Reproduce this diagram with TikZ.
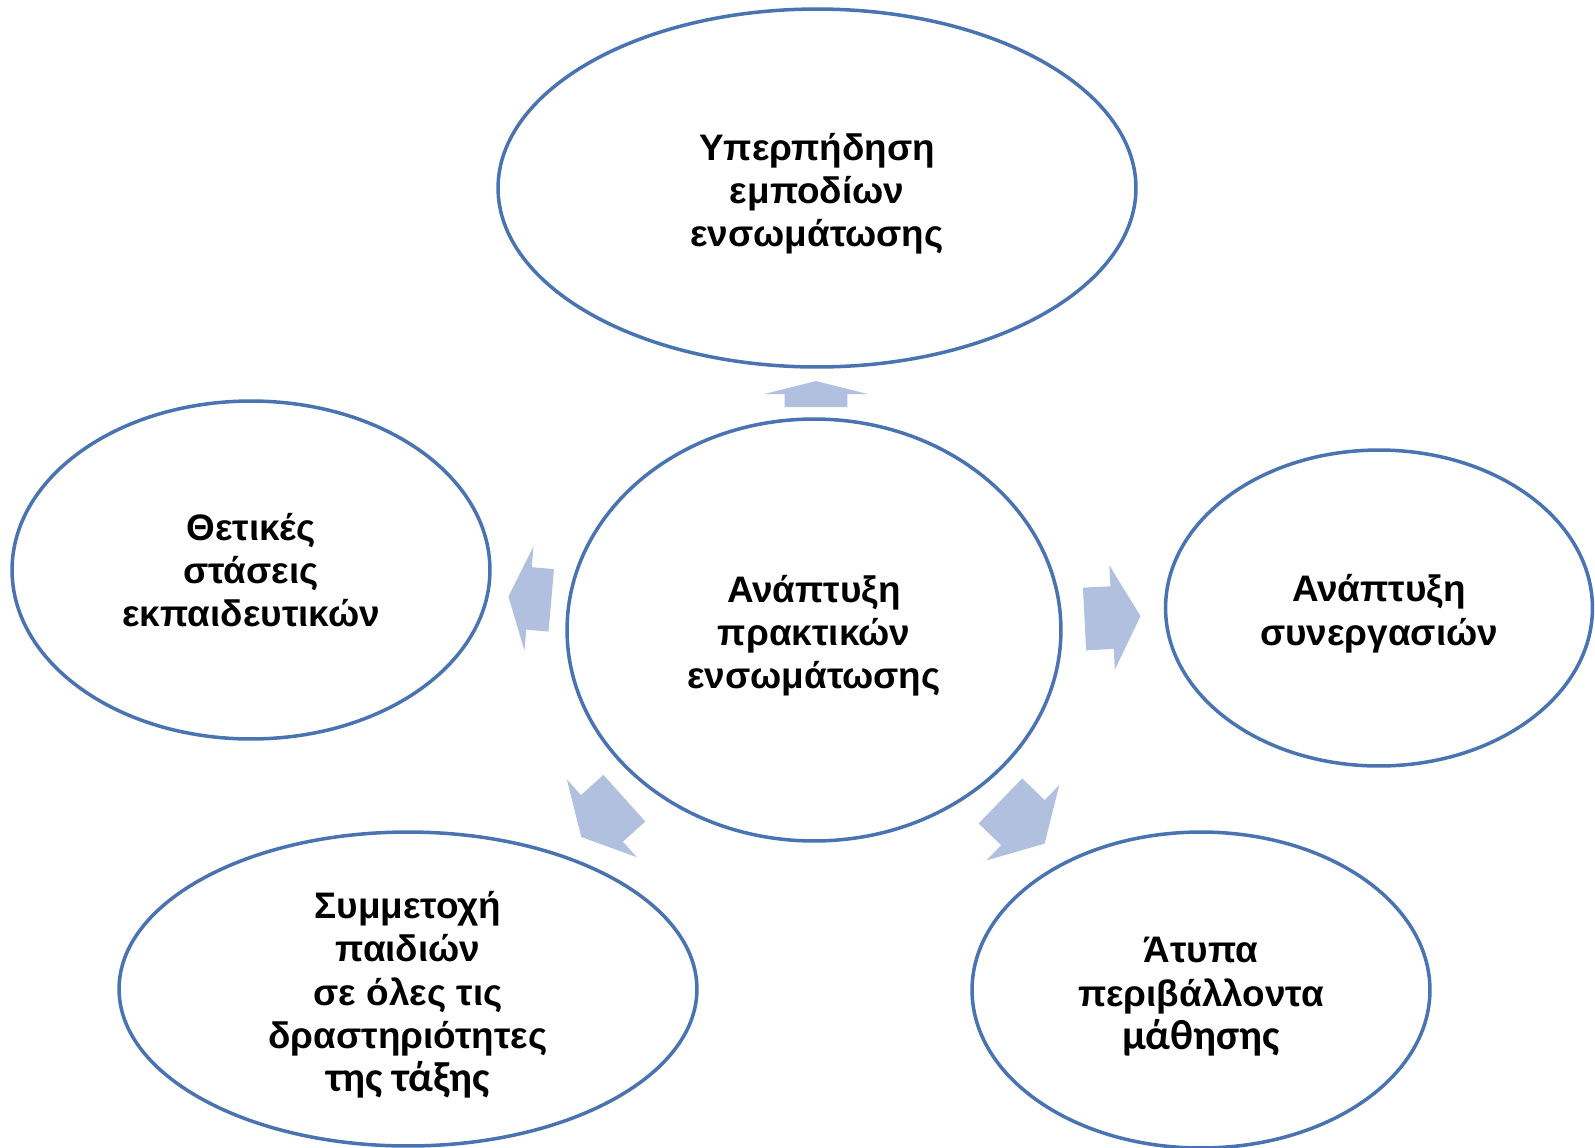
\documentclass[tikz,border=0pt]{standalone}
\usepackage{fontspec}
\setmainfont{Liberation Sans}
\newfontfamily\calfont{Carlito}
\usepackage{tikz}
\usetikzlibrary{shapes,arrows,positioning,calc}
\definecolor{ringblue}{RGB}{74,115,177}
\definecolor{arrowblue}{RGB}{176,192,222}
\newcommand{\headroom}{\rule{0pt}{22pt}}

\begin{document}
\begin{tikzpicture}[
    x=0.02cm, y=-0.02cm,
    bubble/.style={ellipse, draw=ringblue, line width=2pt, align=center, inner sep=0pt,
        font=\fontsize{21}{24.6}\selectfont\bfseries},
    flow/.style={single arrow, fill=arrowblue, draw=none, inner xsep=0pt, inner ysep=0.62cm,
        single arrow head extend=0.42cm}
]
    \useasboundingbox (0,0) rectangle (1595,1147);

    % centre and the five outcomes
    \node[bubble, minimum width=9.88cm, minimum height=8.44cm] (core) at (814,630) {\headroom Ανάπτυξη\\πρακτικών\\ενσωμάτωσης};
    \node[bubble, minimum width=12.76cm, minimum height=7.16cm] (barriers) at (817,188) {\headroom Υπερπήδηση\\εμποδίων\\ενσωμάτωσης};
    \node[bubble, minimum width=9.56cm, minimum height=6.76cm] (attitudes) at (251,570) {Θετικές\\στάσεις\\εκπαιδευτικών};
    \node[bubble, minimum width=8.54cm, minimum height=6.32cm] (partners) at (1379,608) {\headroom Ανάπτυξη\\συνεργασιών};
    \node[bubble, minimum width=11.56cm, minimum height=6.28cm] (children) at (408,989) {\headroom Συμμετοχή\\παιδιών\\σε όλες τις\\δραστηριότητες\\{\calfont\fontsize{24}{24.6}\selectfont της τάξης}};
    \node[bubble, minimum width=9.16cm, minimum height=6.32cm] (informal) at (1201,990) {\headroom Άτυπα\\περιβάλλοντα\\{\calfont\fontsize{24}{24.6}\selectfont μάθησης}};

    % block arrows out of the centre
    \node[flow, minimum height=0.52cm, rotate=90, single arrow tip angle=152] (toBarriers) at (816,398) {};
    \node[flow, minimum height=0.86cm, rotate=175, single arrow tip angle=137] (toAttitudes) at (536,599) {};
    \node[flow, minimum height=1.12cm, rotate=3, single arrow tip angle=123] (toPartners) at (1104,618) {};
    \node[flow, minimum height=1.16cm, rotate=222, single arrow tip angle=124] (toChildren) at (609,812) {};
    \node[flow, minimum height=1.23cm, rotate=316, single arrow tip angle=120] (toInformal) at (1016,816) {};
\end{tikzpicture}
\end{document}
